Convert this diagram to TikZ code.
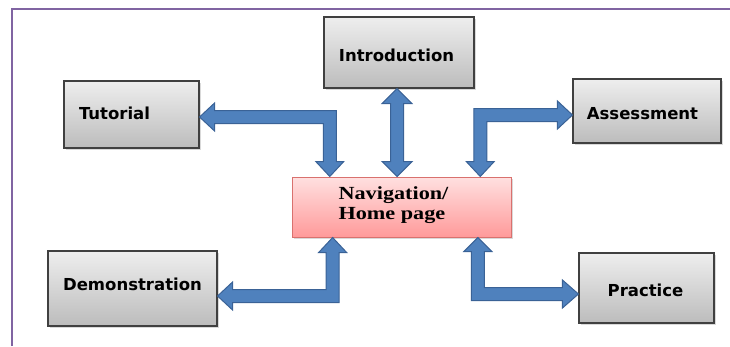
\documentclass[tikz,border=0pt]{standalone}
\usepackage{fontspec}
\usepackage{graphicx}
\setmainfont{DejaVu Sans}
\newfontfamily\navfont{Liberation Serif}
\usetikzlibrary{calc,shadows}
\definecolor{framepurple}{HTML}{8064A2}
\definecolor{arrowfill}{HTML}{4F81BD}
\definecolor{arrowline}{HTML}{3A6296}
\definecolor{boxtop}{HTML}{EEEEEE}
\definecolor{boxbot}{HTML}{BCBCBC}
\definecolor{boxline}{HTML}{404040}
\definecolor{navtop}{HTML}{FFE0E0}
\definecolor{navbot}{HTML}{FF9A9A}
\definecolor{navline}{HTML}{D9716E}
\newcommand{\shiftedtext}[2]{\smash{\raisebox{#1}{#2}}}
\begin{document}
\begin{tikzpicture}[x=1pt,y=-1pt,
  greybox/.style={draw=boxline, line width=1.1pt, top color=boxtop, bottom color=boxbot,
    font=\fontsize{16.5}{19}\selectfont\bfseries, inner sep=0pt,
    drop shadow={opacity=0.3, shadow xshift=1.5pt, shadow yshift=-1.5pt}},
  navbox/.style={draw=navline, line width=1pt, top color=navtop, bottom color=navbot,
    font=\navfont\fontsize{18.5}{20.5}\selectfont\bfseries, inner sep=0pt,
    minimum width=219pt, minimum height=60pt,
    drop shadow={opacity=0.3, shadow xshift=1.5pt, shadow yshift=-1.5pt}},
  blockarrow/.style={fill=arrowfill, draw=arrowline, line width=1pt, line join=miter},
  frameline/.style={draw=framepurple, line width=2.8pt}
]
\useasboundingbox (0,0) rectangle (730,346);
\draw[frameline] (12,346) -- (12,9) -- (730,9);

% boxes
\node[greybox, minimum width=135pt, minimum height=67pt] (tut) at (131.5,114.5) {\shiftedtext{-4.5pt}{Tutorial}\kern34pt\null};
\node[greybox, minimum width=150pt, minimum height=71pt] (intro) at (399,52.5) {\shiftedtext{-8.5pt}{Introduction}\kern5pt\null};
\node[greybox, minimum width=148pt, minimum height=64pt] (assess) at (647,111) {\shiftedtext{-8pt}{Assessment}\kern9pt\null};
\node[greybox, minimum width=169pt, minimum height=75pt] (demo) at (132.5,288.5) {\shiftedtext{-1.5pt}{Demonstration}};
\node[greybox, minimum width=135pt, minimum height=70pt] (prac) at (646.5,288) {\shiftedtext{-8pt}{Practice}\kern2pt\null};
\node[navbox] (nav) at (401.5,207) {\shiftedtext{8pt}{\begin{tabular}[t]{@{}l@{}}\scalebox{1.2}[1]{Navigation/}\\[-0.5pt]\scalebox{1.2}[1]{Home page}\end{tabular}}\kern16pt\null};

% arrow end points
\coordinate (tutT) at ($(tut.east)+(0,2.5)$);
\coordinate (tutD) at ($(nav.north west)!0.174!(nav.north east)$);
\coordinate (introT) at ($(intro.south)+(-2,0)$);
\coordinate (introD) at ($(nav.north west)!0.48!(nav.north east)$);
\coordinate (assT) at ($(assess.west)+(0,4)$);
\coordinate (assD) at ($(nav.north west)!0.858!(nav.north east)$);
\coordinate (demT) at ($(demo.east)+(0,7.5)$);
\coordinate (demU) at ($(nav.south west)!0.187!(nav.south east)$);
\coordinate (pracT) at ($(prac.west)+(0,6)$);
\coordinate (pracU) at ($(nav.south west)!0.847!(nav.south east)$);

% Tutorial <-> Navigation
\filldraw[blockarrow] (tutT) -- ++(15,-14) -- ++(0,7.5) -- ($(tutD|-tutT)+(6.5,-6.5)$)
  -- ($(tutD)+(6.5,-15)$) -- ++(7.5,0) -- (tutD) -- ++(-14,-15) -- ++(7.5,0)
  -- ($(tutD|-tutT)+(-6.5,6.5)$) -- ($(tutT)+(15,6.5)$) -- ++(0,7.5) -- cycle;

% Introduction <-> Navigation
\filldraw[blockarrow] (introT) -- ++(15,15) -- ++(-8.5,0) -- ($(introD)+(6.5,-15)$)
  -- ++(8.5,0) -- (introD) -- ++(-15,-15) -- ++(8.5,0)
  -- ($(introT)+(-6.5,15)$) -- ++(-8.5,0) -- cycle;

% Assessment <-> Navigation
\filldraw[blockarrow] (assT) -- ++(-15,-14) -- ++(0,7.5) -- ($(assD|-assT)+(-6.5,-6.5)$)
  -- ($(assD)+(-6.5,-15)$) -- ++(-7.5,0) -- (assD) -- ++(14,-15) -- ++(-7.5,0)
  -- ($(assD|-assT)+(6.5,6.5)$) -- ($(assT)+(-15,6.5)$) -- ++(0,7.5) -- cycle;

% Demonstration <-> Navigation
\filldraw[blockarrow] (demT) -- ++(15,-14) -- ++(0,7.5) -- ($(demU|-demT)+(-6.5,-6.5)$)
  -- ($(demU)+(-6.5,15)$) -- ++(-7.5,0) -- (demU) -- ++(14,15) -- ++(-7.5,0)
  -- ($(demU|-demT)+(6.5,6.5)$) -- ($(demT)+(15,6.5)$) -- ++(0,7.5) -- cycle;

% Practice <-> Navigation
\filldraw[blockarrow] (pracU) -- ++(14,14) -- ++(-7.5,0) -- ($(pracU|-pracT)+(6.5,-6.5)$)
  -- ($(pracT)+(-16,-6.5)$) -- ++(0,-7.5) -- (pracT) -- ++(-16,14) -- ++(0,-7.5)
  -- ($(pracU|-pracT)+(-6.5,6.5)$) -- ($(pracU)+(-6.5,14)$) -- ++(-7.5,0) -- cycle;
\end{tikzpicture}
\end{document}
